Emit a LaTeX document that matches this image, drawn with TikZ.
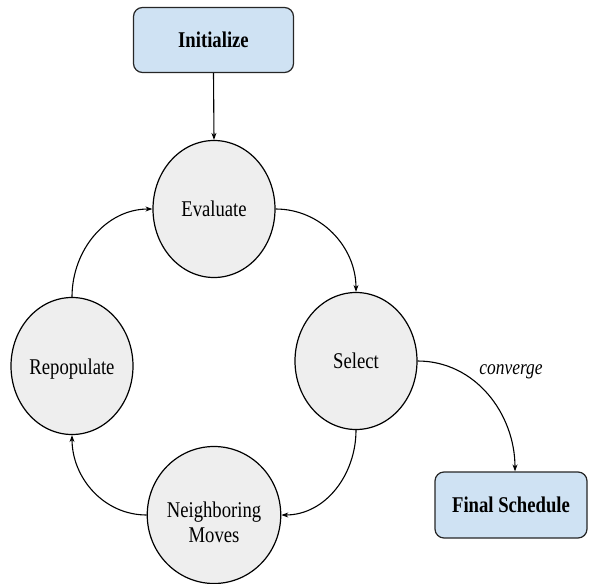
\documentclass[tikz,border=0pt]{standalone}
\usepackage{fontspec}
\usepackage{graphicx}
\setmainfont{Liberation Serif}
\usetikzlibrary{shapes.geometric,arrows.meta}
\definecolor{boxblue}{HTML}{CFE2F3}
\definecolor{stategray}{HTML}{EEEEEE}
\newcommand{\narrowtxt}[1]{\scalebox{0.83}[1]{#1}}
\begin{document}
\begin{tikzpicture}[x=1pt,y=-1pt,
  termbox/.style={draw=black!85, line width=1.2pt, rounded corners=9pt, fill=boxblue,
    minimum width=160pt, minimum height=65pt, inner sep=0pt,
    font=\fontsize{22.5}{25}\selectfont\bfseries},
  statenode/.style={ellipse, draw=black, line width=1.2pt, fill=stategray,
    minimum width=122pt, minimum height=137pt, inner sep=0pt, align=center,
    font=\fontsize{22.5}{25}\selectfont},
  flow/.style={draw=black, line width=1.1pt, -{Stealth[length=7pt,width=5pt]}},
  edgelabel/.style={font=\fontsize{21}{24}\selectfont\itshape}
]
\useasboundingbox (0,0) rectangle (591,583);
\node[termbox] (init) at (213.5,40) {\narrowtxt{Initialize}};
\node[termbox, minimum width=152pt, minimum height=66pt] (final) at (511,505) {\narrowtxt{Final Schedule}};
\node[statenode] (eval) at (214,209) {\narrowtxt{Evaluate}};
\node[statenode] (sel) at (356,361) {\narrowtxt{Select}};
\node[statenode] (repop) at (72,366) {\raisebox{-8pt}[0pt][0pt]{\narrowtxt{Repopulate}}};
\node[statenode] (neigh) at (214,515) {\raisebox{-15.5pt}[0pt][0pt]{\narrowtxt{\begin{tabular}{@{}c@{}}Neighboring\\Moves\end{tabular}}}};
\draw[flow] (init.south) -- (eval.north);
\draw[flow] (eval.east) to[out=0,in=90] (sel.north);
\draw[flow] (sel.south) to[out=-90,in=0] (neigh.east);
\draw[flow] (neigh.west) to[out=180,in=-90] (repop.south);
\draw[flow] (repop.north) to[out=90,in=180] (eval.west);
\draw[flow] (sel.east) to[out=0,in=90] ([xshift=4pt]final.north);
\node[edgelabel] (conv) at (511,372) {\narrowtxt{converge}};
\end{tikzpicture}
\end{document}
